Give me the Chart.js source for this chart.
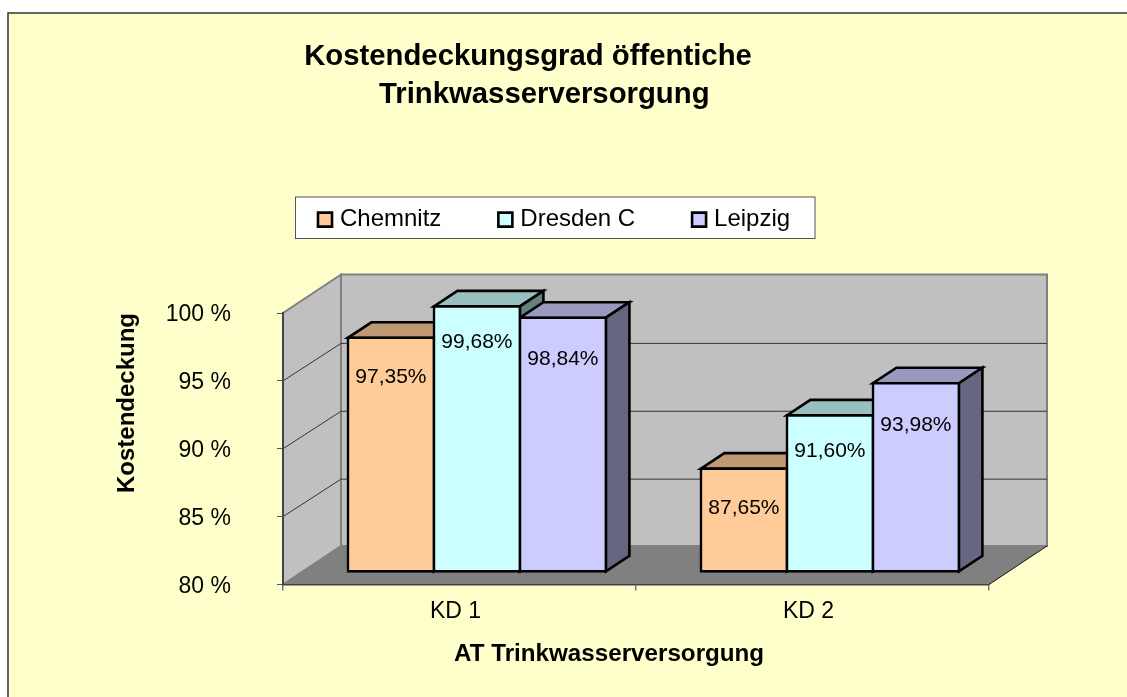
<!DOCTYPE html>
<html>
<head>
<meta charset="utf-8">
<style>html,body{margin:0;padding:0;background:#fff}canvas{display:block}</style>
<script src="https://cdn.jsdelivr.net/npm/chart.js@4"></script>
</head>
<body>
<canvas id="c" width="1127" height="697"></canvas>
<script>
const categories = ['KD 1', 'KD 2'];
const chemnitz = [97.35, 87.65];
const dresden = [99.68, 91.60];
const leipzig = [98.84, 93.98];
const seriesNames = ['Chemnitz', 'Dresden C', 'Leipzig'];
const tickSuffix = ' %';
const axisMin = 80;
const axisMax = 100;

const FONT = '"Liberation Sans", Arial, sans-serif';
const WALL = {dx: 58, dy: -38.5, gridDy: -37.5};
const BAR_PLANE = {dx: 17.4, dy: -12.6, k: 0.994};
const BAR_DEPTH = {dx: 23.5, dy: -15.5};
const EDGE = 2.6;
const SHADE = [
  {front: '#FFCC99', top: '#BF9973', side: '#807060'},
  {front: '#CCFFFF', top: '#99BFBF', side: '#667F7F'},
  {front: '#CCCCFF', top: '#9999BF', side: '#666680'}
];
const LABEL_DROP = [39.5, 36, 41.5];

function poly(ctx, pts, fill, stroke, lw) {
  ctx.beginPath();
  pts.forEach((p, i) => i ? ctx.lineTo(p[0], p[1]) : ctx.moveTo(p[0], p[1]));
  ctx.closePath();
  if (fill) { ctx.fillStyle = fill; ctx.fill(); }
  if (stroke) { ctx.strokeStyle = stroke; ctx.lineWidth = lw; ctx.lineJoin = 'miter'; ctx.stroke(); }
}
function barBox(el) {
  const p = el.getProps(['x', 'y', 'base', 'width'], true);
  const left = p.x - p.width / 2 + BAR_PLANE.dx, right = p.x + p.width / 2 + BAR_PLANE.dx;
  const bottom = p.base + BAR_PLANE.dy;
  const top = p.base + (p.y - p.base) * BAR_PLANE.k + BAR_PLANE.dy;
  return {left, right, top, bottom, cx: p.x + BAR_PLANE.dx};
}

const scene = {
  id: 'scene',
  afterLayout(chart) {
    const t = chart.titleBlock;
    t.left = 0; t.right = 1056;
    const l = chart.legend;
    const lh = 24 * 1.2;
    l.left = 322 - l.options.labels.padding;
    l.right = 1127;
    l.top = 222 - l.options.labels.padding - lh / 2;
  },
  beforeDraw(chart) {
    const {ctx, chartArea: a, scales: {y}} = chart;
    ctx.save();
    ctx.fillStyle = '#fff'; ctx.fillRect(0, 0, 1127, 697);
    ctx.fillStyle = '#FFFFCC'; ctx.fillRect(8, 13, 1127, 697);
    ctx.strokeStyle = '#333'; ctx.lineWidth = 1.5;
    ctx.beginPath(); ctx.moveTo(8, 697); ctx.lineTo(8, 13); ctx.lineTo(1127, 13); ctx.stroke();
    // legend frame
    ctx.fillStyle = '#fff'; ctx.fillRect(295.5, 197, 519.5, 41.5);
    ctx.strokeStyle = '#555'; ctx.lineWidth = 1; ctx.strokeRect(295.5, 197, 519.5, 41.5);
    // walls and floor
    const {left: L, right: R, top: T, bottom: B} = a;
    const dx = WALL.dx, dy = WALL.dy;
    poly(ctx, [[L, B], [L, T], [L + dx, T + dy], [L + dx, B + dy]], '#C0C0C0', '#808080', 2);
    poly(ctx, [[L + dx, T + dy], [R + dx, T + dy], [R + dx, B + dy], [L + dx, B + dy]], '#C0C0C0', '#808080', 2);
    poly(ctx, [[L, B], [R, B], [R + dx, B + dy], [L + dx, B + dy]], '#808080');
    ctx.strokeStyle = '#111'; ctx.lineWidth = 1;
    ctx.beginPath(); ctx.moveTo(R, B); ctx.lineTo(R + dx, B + dy); ctx.stroke();
    // gridlines on the walls
    ctx.strokeStyle = '#333'; ctx.lineWidth = 1;
    y.ticks.forEach(tk => {
      if (tk.value <= y.min || tk.value >= y.max) return;
      const py = y.getPixelForValue(tk.value);
      ctx.beginPath();
      ctx.moveTo(L, py); ctx.lineTo(L + dx, py + WALL.gridDy); ctx.lineTo(R + dx, py + WALL.gridDy);
      ctx.stroke();
    });
    ctx.restore();
  },
  beforeDatasetsDraw(chart) {
    const {ctx} = chart;
    ctx.save();
    for (let c = 0; c < categories.length; c++) {
      chart.data.datasets.forEach((ds, i) => {
        const b = barBox(chart.getDatasetMeta(i).data[c]);
        const d = BAR_DEPTH, s = SHADE[i];
        poly(ctx, [[b.left, b.top], [b.right, b.top], [b.right + d.dx, b.top + d.dy], [b.left + d.dx, b.top + d.dy]], s.top, '#000', EDGE);
        poly(ctx, [[b.right, b.top], [b.right + d.dx, b.top + d.dy], [b.right + d.dx, b.bottom + d.dy], [b.right, b.bottom]], s.side, '#000', EDGE);
      });
    }
    ctx.restore();
    // fronts are drawn by the library, moved onto the bar plane
    const base = chart.scales.y.getPixelForValue(chart.scales.y.min);
    ctx.save();
    ctx.translate(BAR_PLANE.dx, base + BAR_PLANE.dy);
    ctx.scale(1, BAR_PLANE.k);
    ctx.translate(0, -base);
  },
  afterDatasetsDraw(chart) {
    const {ctx} = chart;
    ctx.restore();
    ctx.save();
    ctx.fillStyle = '#000';
    ctx.font = '21px ' + FONT;
    ctx.textAlign = 'center';
    ctx.textBaseline = 'middle';
    chart.data.datasets.forEach((ds, i) => {
      chart.getDatasetMeta(i).data.forEach((el, j) => {
        const b = barBox(el);
        ctx.fillText(ds.data[j].toFixed(2).replace('.', ',') + '%', b.cx, b.top + LABEL_DROP[i]);
      });
    });
    ctx.restore();
  }
};

const allSeries = [chemnitz, dresden, leipzig];
new Chart(document.getElementById('c'), {
  type: 'bar',
  data: {
    labels: categories,
    datasets: allSeries.map((values, i) => ({
      label: seriesNames[i],
      data: values,
      base: axisMin,
      clip: false,
      backgroundColor: SHADE[i].front,
      borderColor: '#000',
      borderWidth: EDGE,
      borderSkipped: false,
      inflateAmount: EDGE / 2,
      categoryPercentage: 0.731,
      barPercentage: 1
    }))
  },
  options: {
    responsive: false,
    animation: false,
    layout: {padding: {left: 100, right: 138, top: 0, bottom: 0}},
    plugins: {
      tooltip: {enabled: false},
      title: {
        display: true,
        text: ['Kostendeckungsgrad öffentiche', '    Trinkwasserversorgung'],
        color: '#000',
        font: {family: FONT, size: 29.3, weight: 'bold', lineHeight: 1.28},
        padding: {top: 38.5, bottom: 198.5}
      },
      legend: {
        display: true,
        position: 'top',
        align: 'start',
        maxHeight: 1,
        labels: {
          color: '#000',
          font: {family: FONT, size: 24},
          usePointStyle: true,
          pointStyle: 'rect',
          boxWidth: 6,
          boxHeight: 14,
          padding: 61
        }
      }
    },
    scales: {
      x: {
        afterFit: s => { s.height = 112.5; },
        grid: {drawOnChartArea: false, tickLength: 6, color: '#777', lineWidth: 1.5},
        border: {color: '#444', width: 1.5},
        ticks: {color: '#000', font: {family: FONT, size: 23}, padding: 7, labelOffset: -4, maxRotation: 0},
        title: {
          display: true,
          text: 'AT Trinkwasserversorgung        ',
          color: '#000',
          font: {family: FONT, size: 24.2, weight: 'bold'},
          padding: {top: 0, bottom: 28}
        }
      },
      y: {
        min: axisMin,
        max: axisMax,
        afterFit: s => { s.width = 183; },
        grid: {drawOnChartArea: false, tickLength: 6, color: '#555', lineWidth: 1},
        border: {color: '#444', width: 2},
        ticks: {
          stepSize: 5,
          color: '#000',
          padding: 46,
          labelOffset: 2,
          font: {family: FONT, size: 23},
          callback: v => v + tickSuffix
        },
        title: {
          display: true,
          text: 'Kostendeckung',
          align: 'end',
          color: '#000',
          font: {family: FONT, size: 24, weight: 'bold'},
          padding: {top: 12.6, bottom: 0}
        }
      }
    }
  },
  plugins: [scene]
});
</script>
</body>
</html>
